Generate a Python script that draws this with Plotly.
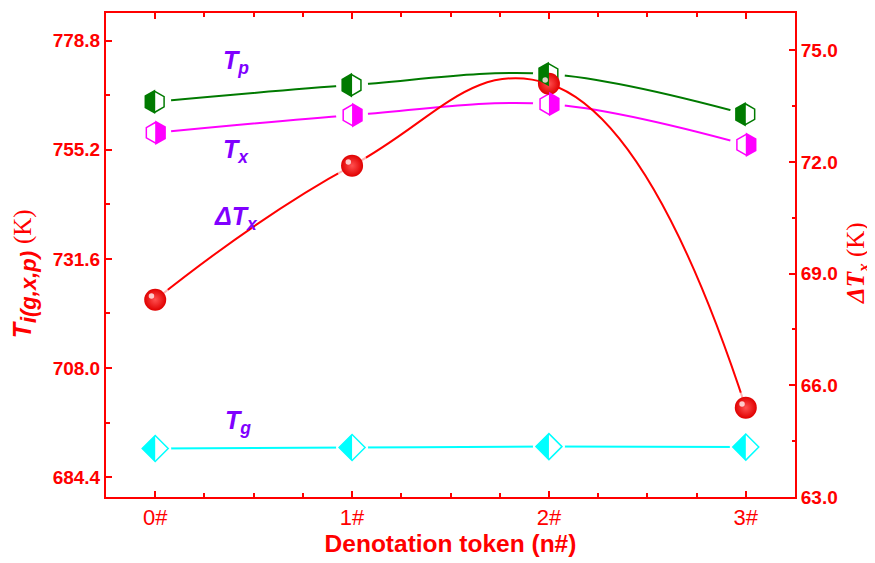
import plotly.graph_objects as go

# ---------------- data ----------------
tokens = [0, 1, 2, 3]
token_labels = ["0#", "1#", "2#", "3#"]
Tg = [690.6, 690.8, 691.0, 690.9]
Tx = [758.9, 762.7, 765.1, 756.3]
Tp = [765.6, 769.2, 771.6, 762.9]
dTx = [68.3, 71.9, 74.1, 65.4]
left_ticks = [684.4, 708.0, 731.6, 755.2, 778.8]
right_ticks = [63.0, 66.0, 69.0, 72.0, 75.0]

RED = "#FF0000"
GREEN = "#007A00"
MAGENTA = "#FF00FF"
CYAN = "#00FFFF"
VIOLET = "#8000FF"
SANS = "Liberation Sans, Arial, sans-serif"
SERIF = "Liberation Serif, Times New Roman, serif"

HEX_SIZE = 20.5
DIA_SIZE = 20
BALL_SIZE = 22
HALO = 32

fig = go.Figure()

# --- lines ---
for ys, col in [(Tp, GREEN), (Tx, MAGENTA), (Tg, CYAN)]:
    fig.add_trace(go.Scatter(x=tokens, y=ys, mode="lines",
                             line=dict(color=col, width=2, shape="spline", smoothing=1),
                             showlegend=False, hoverinfo="skip"))
# --- white halos (gaps around markers) ---
for ys in [Tp, Tx, Tg]:
    fig.add_trace(go.Scatter(x=tokens, y=ys, mode="markers",
                             marker=dict(symbol="circle", size=HALO, color="white",
                                         line=dict(width=0)),
                             showlegend=False, hoverinfo="skip"))
# --- markers ---
fig.add_trace(go.Scatter(x=tokens, y=Tp, mode="markers", name="Tp",
                         marker=dict(symbol="hexagon", size=HEX_SIZE, color="white",
                                     line=dict(color=GREEN, width=1.5)), showlegend=False))
fig.add_trace(go.Scatter(x=tokens, y=Tx, mode="markers", name="Tx",
                         marker=dict(symbol="hexagon", size=HEX_SIZE, color="white",
                                     line=dict(color=MAGENTA, width=1.5)), showlegend=False))
fig.add_trace(go.Scatter(x=tokens, y=Tg, mode="markers", name="Tg",
                         marker=dict(symbol="diamond", size=DIA_SIZE, color="white",
                                     line=dict(color=CYAN, width=1.5)), showlegend=False))

# --- ΔTx on the right axis ---
fig.add_trace(go.Scatter(x=tokens, y=dTx, mode="lines", yaxis="y2",
                         line=dict(color=RED, width=2, shape="spline", smoothing=1.3),
                         showlegend=False, hoverinfo="skip"))
fig.add_trace(go.Scatter(x=tokens, y=dTx, mode="markers", yaxis="y2",
                         marker=dict(symbol="circle", size=[HALO, HALO, 0, HALO], color="white",
                                     line=dict(width=0)),
                         showlegend=False, hoverinfo="skip"))
fig.add_trace(go.Scatter(x=tokens, y=dTx, mode="markers", yaxis="y2", name="ΔTx",
                         marker=dict(symbol="circle", size=BALL_SIZE, color="#E00000",
                                     gradient=dict(type="radial", color="#FF5050"),
                                     line=dict(width=0)), showlegend=False))

# --- half-filled marker shapes (pixel-sized, anchored at data points) ---
def hex_half(size, side):
    r = size / 2.0
    r1, r2, r3 = 1.2 * r, 0.6 * r, 1.04 * r
    s = -1 if side == "left" else 1
    return f"M0,{r1} L{s*r3},{r2} L{s*r3},{-r2} L0,{-r1} Z"

def dia_half(size, side):
    rd = 1.3 * size / 2.0
    s = -1 if side == "left" else 1
    return f"M0,{rd} L{s*rd},0 L0,{-rd} Z"

shapes = []
for xv, yv in zip(tokens, Tp):
    shapes.append(dict(type="path", xref="x", yref="y", xsizemode="pixel", ysizemode="pixel",
                       xanchor=xv, yanchor=yv, path=hex_half(HEX_SIZE, "left"),
                       fillcolor=GREEN, line=dict(width=0), layer="above"))
for xv, yv in zip(tokens, Tx):
    shapes.append(dict(type="path", xref="x", yref="y", xsizemode="pixel", ysizemode="pixel",
                       xanchor=xv, yanchor=yv, path=hex_half(HEX_SIZE, "right"),
                       fillcolor=MAGENTA, line=dict(width=0), layer="above"))
for xv, yv in zip(tokens, Tg):
    shapes.append(dict(type="path", xref="x", yref="y", xsizemode="pixel", ysizemode="pixel",
                       xanchor=xv, yanchor=yv, path=dia_half(DIA_SIZE, "left"),
                       fillcolor=CYAN, line=dict(width=0), layer="above"))
# sphere highlights
for xv, yv in zip(tokens, dTx):
    shapes.append(dict(type="circle", xref="x", yref="y2", xsizemode="pixel", ysizemode="pixel",
                       xanchor=xv, yanchor=yv, x0=-6.5, x1=-1, y0=1, y1=6.5,
                       fillcolor="rgba(255,230,230,0.85)", line=dict(width=0), layer="above"))

# --- labels ---
lab_font = dict(family=SANS, size=25, color=VIOLET)
annotations = [
    dict(x=0.41, y=774.3, text="<b><i>T<sub>p</sub></i></b>"),
    dict(x=0.41, y=755.0, text="<b><i>T<sub>x</sub></i></b>"),
    dict(x=0.41, y=740.5, text="<b><i>ΔT<sub>x</sub></i></b>"),
    dict(x=0.42, y=696.4, text="<b><i>T<sub>g</sub></i></b>"),
]
for a in annotations:
    a.update(xref="x", yref="y", showarrow=False, font=lab_font)

# axis titles (placed as rotated annotations)
annotations.append(dict(
    xref="paper", yref="paper", x=0, y=0.46, xshift=-82, xanchor="center", yanchor="middle",
    textangle=-90, showarrow=False, font=dict(family=SANS, size=25, color=RED),
    text="<b><i>T<sub><span style=\"font-size:22px\">i(g,x,p)</span></sub></i></b> "
         "<span style=\"font-family:Liberation Serif;font-size:25px\">(K)</span>"))
annotations.append(dict(
    xref="paper", yref="paper", x=1, y=0.4835, xshift=63, xanchor="center", yanchor="middle",
    textangle=-90, showarrow=False, font=dict(family=SERIF, size=25, color=RED),
    text="<b><i>ΔT<sub>x</sub></i></b> (K)"))

fig.update_layout(
    width=867, height=555,
    margin=dict(l=98, r=80, t=3, b=66),
    plot_bgcolor="white", paper_bgcolor="white",
    shapes=shapes, annotations=annotations,
    xaxis=dict(range=[-0.25, 3.25], tickmode="array", tickvals=tokens, ticktext=token_labels,
               ticks="inside", ticklen=6, tickwidth=1.5, tickcolor=RED,
               minor=dict(ticks="inside", dtick=0.25, tick0=0, ticklen=4, tickwidth=1.5, tickcolor=RED),
               showline=True, linecolor=RED, linewidth=2, mirror="ticks",
               showgrid=False, zeroline=False,
               tickfont=dict(family=SANS, size=22, color=RED),
               title=dict(text="<b>Denotation token (n#)</b>", standoff=2,
                          font=dict(family=SANS, size=24.5, color=RED))),
    yaxis=dict(range=[680.1, 784.8], tickmode="array", tickvals=left_ticks,
               ticktext=[f"{v:.1f}" for v in left_ticks],
               ticks="inside", ticklen=6, tickwidth=1.5, tickcolor=RED,
               minor=dict(ticks="inside", dtick=11.8, tick0=684.4, ticklen=3.5, tickwidth=1.5, tickcolor=RED),
               showline=True, linecolor=RED, linewidth=2,
               showgrid=False, zeroline=False,
               tickfont=dict(family=SANS, size=19, color=RED, weight="bold")),
    yaxis2=dict(range=[63, 76], overlaying="y", side="right", anchor="x",
                tickmode="array", tickvals=right_ticks, ticktext=[f"{v:.1f}" for v in right_ticks],
                ticks="inside", ticklen=6, tickwidth=1.5, tickcolor=RED,
                minor=dict(ticks="inside", dtick=1.5, tick0=63, ticklen=3.5, tickwidth=1.5, tickcolor=RED),
                showline=True, linecolor=RED, linewidth=2,
                showgrid=False, zeroline=False,
                tickfont=dict(family=SANS, size=19, color=RED, weight="bold")),
)

fig.write_html("out.html")
